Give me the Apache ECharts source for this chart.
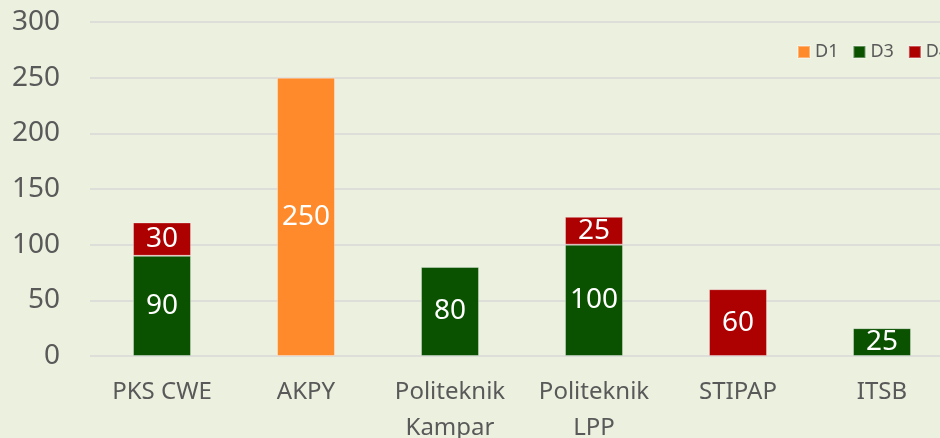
<!DOCTYPE html>
<html>
<head>
<meta charset="utf-8">
<script src="https://cdn.jsdelivr.net/npm/echarts@6/dist/echarts.min.js"></script>
<style>
  html, body { margin: 0; padding: 0; background: #ebf0df; }
  #chart { width: 940px; height: 438px; }
</style>
</head>
<body>
<div id="chart"></div>
<script>
// data
const categories = ["PKS CWE", "AKPY", "Politeknik\nKampar", "Politeknik\nLPP", "STIPAP", "ITSB"];
const d1 = [null, 250, null, null, null, null];
const d3 = [90, null, 80, 100, null, 25];
const d4 = [30, null, null, 25, 60, null];

const font = "Noto Sans";
const textColor = "#595959";

const barSeries = (name, data, color) => ({
  name,
  type: "bar",
  stack: "total",
  data,
  barWidth: 58,
  itemStyle: { color, borderColor: "rgba(255,255,255,0.35)", borderWidth: 1 },
  label: {
    show: true,
    position: "inside",
    color: "#fff",
    fontFamily: font,
    fontSize: 28,
  },
});

const chart = echarts.init(document.getElementById("chart"));
chart.setOption({
  backgroundColor: "#ebf0df",
  animation: false,
  grid: { left: 90, top: 22, width: 864, bottom: 82, outerBoundsMode: "none", containLabel: false },
  legend: {
    left: 797,
    top: 41,
    width: 220,
    padding: 0,
    itemWidth: 12,
    itemHeight: 12,
    itemGap: 14,
    icon: "rect",
    textStyle: { color: textColor, fontFamily: font, fontSize: 18, lineHeight: 22 },
    data: ["D1", "D3", "D4"],
  },
  xAxis: {
    type: "category",
    data: categories,
    axisLine: { show: false },
    axisTick: { show: false },
    axisLabel: {
      color: textColor,
      fontFamily: font,
      fontSize: 24,
      lineHeight: 36,
      margin: 18,
      interval: 0,
    },
  },
  yAxis: {
    type: "value",
    min: 0,
    max: 300,
    interval: 50,
    axisLabel: { color: textColor, fontFamily: font, fontSize: 28, margin: 30 },
    splitLine: { lineStyle: { color: "#d8d8d8", width: 1.5 } },
  },
  series: [
    barSeries("D1", d1, "#ff8a2b"),
    barSeries("D3", d3, "#0b5200"),
    barSeries("D4", d4, "#ad0000"),
  ],
});
</script>
</body>
</html>
